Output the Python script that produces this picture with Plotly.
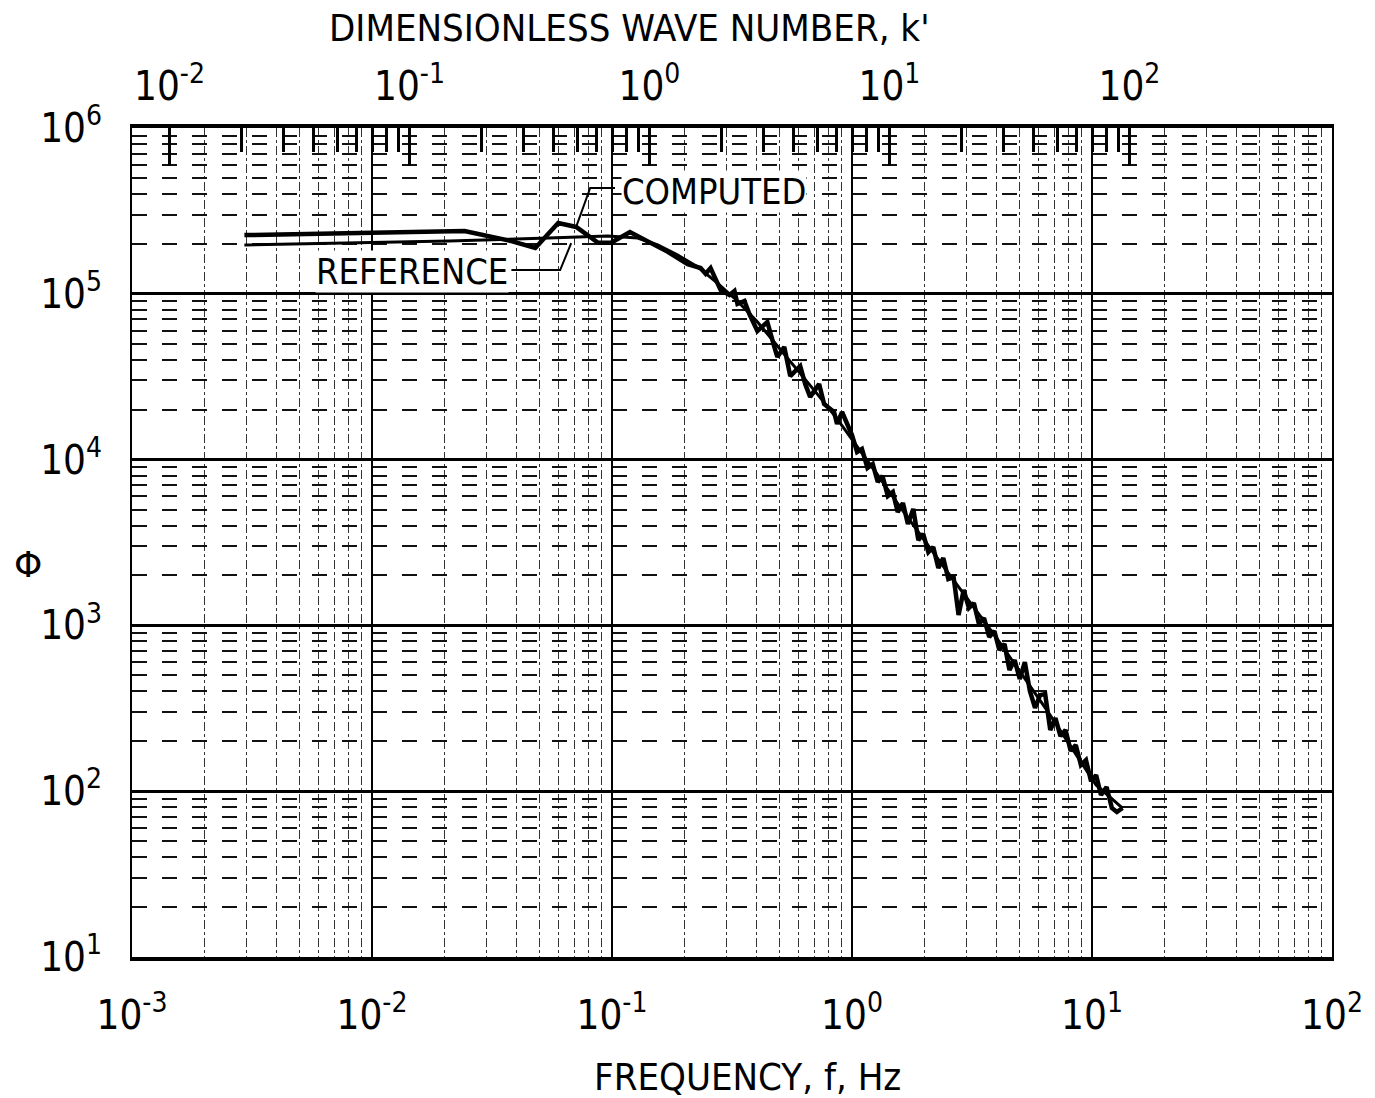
import math
import plotly.graph_objects as go

# dimensionless wave number per hertz (top axis scale factor)
K_PER_HZ = 6.98

# REFERENCE spectrum (smooth curve)
ref_freq = [0.00294, 0.0080, 0.0209, 0.0543, 0.096, 0.128, 0.155, 0.188, 0.228, 0.275,
            0.333, 0.404, 0.489, 0.591, 0.716, 0.867, 1.05, 1.27, 1.54, 2.48,
            4.0, 6.44, 10.4, 13.4]
ref_phi = [1.97e5, 2.02e5, 2.08e5, 2.17e5, 2.23e5, 2.17e5, 1.97e5, 1.71e5, 1.45e5, 1.16e5,
           9.05e4, 6.76e4, 4.85e4, 3.47e4, 2.49e4, 1.76e4, 1.21e4, 8.2e3, 5.5e3, 2.13e3,
           840, 313, 109, 79]

# COMPUTED spectrum (wiggly / noisy curve)
comp_freq = [0.00294, 0.01294, 0.0243, 0.0381, 0.0479, 0.0597, 0.0709, 0.0875, 0.0991, 0.1188,
             0.1509, 0.1708, 0.2067, 0.234, 0.2455, 0.2575, 0.2834, 0.3087, 0.3238, 0.3333,
             0.3563, 0.3737, 0.4035, 0.4439, 0.4746, 0.4885, 0.5222, 0.553, 0.6084, 0.6381,
             0.6693, 0.7295, 0.7651, 0.8418, 0.8665, 0.9089,
             1.00, 1.05, 1.10, 1.16, 1.22, 1.28, 1.34, 1.41, 1.48, 1.55,
             1.63, 1.71, 1.80, 1.89, 1.98, 2.08, 2.18, 2.29, 2.40, 2.52,
             2.65, 2.78, 2.92, 3.07, 3.22, 3.38, 3.55, 3.73, 3.92, 4.11,
             4.32, 4.53, 4.76, 5.00, 5.25, 5.51, 5.79, 6.08, 6.38, 6.70,
             7.04, 7.39, 7.76, 8.15, 8.56, 8.99, 9.44, 9.91, 10.4, 10.9,
             11.5, 12.1, 12.7, 13.4]
comp_phi = [2.26e5, 2.33e5, 2.39e5, 2.08e5, 1.89e5, 2.67e5, 2.53e5, 2.03e5, 2.03e5, 2.36e5,
            1.97e5, 1.79e5, 1.51e5, 1.43e5, 1.32e5, 1.43e5, 1.054e5, 9.83e4, 1.04e5, 8.68e4,
            9.05e4, 7.55e4, 5.97e4, 6.76e4, 4.78e4, 4.16e4, 4.78e4, 3.19e4, 3.67e4, 2.86e4,
            2.39e4, 2.86e4, 2.165e4, 1.937e4, 1.64e4, 1.937e4,
            1.407e4, 1.111e4, 1.158e4, 8.90e3, 9.41e3, 7.33e3, 7.96e3, 6.03e3, 6.38e3, 4.83e3,
            5.47e3, 4.09e3, 5.04e3, 3.27e3, 3.56e3, 2.77e3, 2.97e3, 2.22e3, 2.55e3, 1.905e3,
            1.958e3, 1.155e3, 1.635e3, 1.273e3, 1.365e3, 1.019e3, 1.108e3, 851, 925, 711,
            772, 538, 618, 475, 601, 402, 318, 380, 386, 234,
            276, 215, 234, 175, 190, 144, 154, 115, 125, 94.9,
            106, 79.2, 74.9, 79.2]

# label leader lines (frequency, phi)
computed_leader_freq = [0.1029, 0.0811, 0.0709]
computed_leader_phi = [4.35e5, 4.35e5, 2.53e5]
reference_leader_freq = [0.0381, 0.0608, 0.0676]
reference_leader_phi = [1.39e5, 1.39e5, 2.02e5]

# tick labels
freq_ticks = [1e-3, 1e-2, 1e-1, 1, 10, 100]
freq_tick_text = ["10<sup>-3</sup>", "10<sup>-2</sup>", "10<sup>-1</sup>",
                  "10<sup>0</sup>", "10<sup>1</sup>", "10<sup>2</sup>"]
phi_ticks = [1e1, 1e2, 1e3, 1e4, 1e5, 1e6]
phi_tick_text = ["10<sup>1</sup>", "10<sup>2</sup>", "10<sup>3</sup>",
                 "10<sup>4</sup>", "10<sup>5</sup>", "10<sup>6</sup>"]
k_ticks = [1e-2, 1e-1, 1, 10, 100]
k_tick_text = ["10<sup>-2</sup>", "10<sup>-1</sup>", "10<sup>0</sup>",
               "10<sup>1</sup>", "10<sup>2</sup>"]

freq_minor = [m * 10.0 ** e for e in range(-3, 2) for m in range(2, 10)]
phi_minor = [m * 10.0 ** e for e in range(1, 6) for m in range(2, 10)]
k_minor = [m * 10.0 ** e for e in range(-2, 2) for m in range(2, 10)]

FAMILY = "DejaVu Sans Condensed, DejaVu Sans, sans-serif"
TICK_FONT = dict(family=FAMILY, size=40, color="black")
TITLE_FONT = dict(family=FAMILY, size=38, color="black")
LABEL_FONT = dict(family=FAMILY, size=36, color="black")

fig = go.Figure()

fig.add_trace(go.Scatter(x=ref_freq, y=ref_phi, mode="lines",
                         line=dict(color="black", width=3), hoverinfo="skip", name="REFERENCE"))
fig.add_trace(go.Scatter(x=comp_freq, y=comp_phi, mode="lines",
                         line=dict(color="black", width=4.5), hoverinfo="skip", name="COMPUTED"))
fig.add_trace(go.Scatter(x=computed_leader_freq, y=computed_leader_phi, mode="lines",
                         line=dict(color="black", width=2), hoverinfo="skip"))
fig.add_trace(go.Scatter(x=reference_leader_freq, y=reference_leader_phi, mode="lines",
                         line=dict(color="black", width=2), hoverinfo="skip"))
# carrier trace for the wave-number axis (same reference data expressed as k')
fig.add_trace(go.Scatter(x=[f * K_PER_HZ for f in ref_freq], y=ref_phi, mode="lines",
                         xaxis="x2", opacity=0, line=dict(width=1), hoverinfo="skip"))

fig.update_layout(
    width=1375, height=1098,
    margin=dict(l=132, r=38, t=128, b=141),
    paper_bgcolor="white", plot_bgcolor="white",
    showlegend=False,
    font=dict(family=FAMILY, color="black"),
    xaxis=dict(
        type="log", range=[-3, 2],
        tickmode="array", tickvals=freq_ticks, ticktext=freq_tick_text,
        ticks="", tickfont=TICK_FONT, ticklabelstandoff=20,
        showgrid=True, gridcolor="black", gridwidth=2,
        minor=dict(tickmode="array", tickvals=freq_minor, ticks="",
                   showgrid=True, gridcolor="#333333", gridwidth=1, griddash="dashdot"),
        showline=True, linecolor="black", linewidth=4, mirror=False,
        zeroline=False,
    ),
    xaxis2=dict(
        type="log", overlaying="x", side="top", anchor="y",
        range=[math.log10(1e-3 * K_PER_HZ), math.log10(1e2 * K_PER_HZ)],
        tickmode="array", tickvals=k_ticks, ticktext=k_tick_text,
        ticks="inside", ticklen=38, tickwidth=3, tickcolor="black",
        tickfont=TICK_FONT, ticklabelstandoff=8,
        showgrid=False,
        minor=dict(tickmode="array", tickvals=k_minor, ticks="inside",
                   ticklen=24, tickwidth=2.5, tickcolor="black", showgrid=False),
        showline=True, linecolor="black", linewidth=4,
        zeroline=False,
    ),
    yaxis=dict(
        type="log", range=[1, 6],
        tickmode="array", tickvals=phi_ticks, ticktext=phi_tick_text,
        ticks="", tickfont=TICK_FONT, ticklabelstandoff=20,
        showgrid=True, gridcolor="black", gridwidth=3,
        minor=dict(tickmode="array", tickvals=phi_minor, ticks="",
                   showgrid=True, gridcolor="#111111", gridwidth=1.5, griddash="longdash"),
        showline=True, linecolor="black", linewidth=2, mirror=True,
        zeroline=False,
    ),
    annotations=[
        dict(text="DIMENSIONLESS WAVE NUMBER, k'", xref="paper", yref="paper",
             x=0.4145, y=1.1206, xanchor="center", yanchor="middle",
             showarrow=False, font=TITLE_FONT),
        dict(text="FREQUENCY, f, Hz", xref="paper", yref="paper",
             x=0.5129, y=-0.1448, xanchor="center", yanchor="middle",
             showarrow=False, font=TITLE_FONT),
        dict(text="Φ", xref="paper", yref="paper",
             x=-0.0863, y=0.473, xanchor="center", yanchor="middle",
             showarrow=False, font=dict(family="DejaVu Sans, sans-serif", size=36, color="black")),
        dict(text="COMPUTED", xref="paper", yref="paper",
             x=0.4846, y=0.924, xanchor="center", yanchor="middle",
             showarrow=False, font=LABEL_FONT, bgcolor="white", borderpad=0),
        dict(text="REFERENCE", xref="paper", yref="paper",
             x=0.2332, y=0.8263, xanchor="center", yanchor="middle",
             showarrow=False, font=LABEL_FONT, bgcolor="white", borderpad=0),
    ],
)

fig.write_html("out.html")
